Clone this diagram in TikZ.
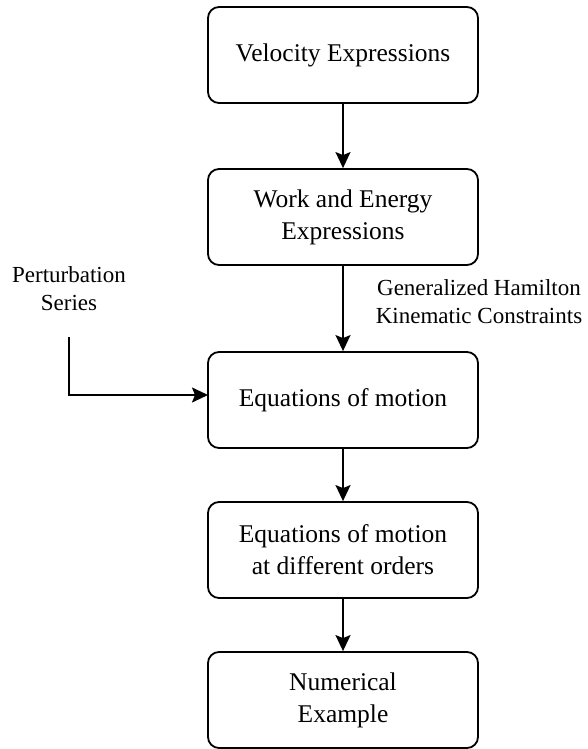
\documentclass[tikz,border=0pt]{standalone}
\usepackage{fontspec}
\setmainfont{Liberation Serif}
\usetikzlibrary{arrows.meta}
\begin{document}
\begin{tikzpicture}[x=1pt,y=-1pt,
  box/.style={draw,line width=1.8pt,rounded corners=11pt,minimum width=270pt,minimum height=96pt,inner sep=0pt,align=center,font=\fontsize{25.5}{32}\selectfont},
  lbl/.style={align=center,inner sep=0pt,font=\fontsize{23}{28}\selectfont},
  conn/.style={line width=1.8pt,-{Stealth[length=16pt,width=15pt,inset=3pt]}}]
\useasboundingbox (0,0) rectangle (587,749);
\node[box] (b1) at (343,55) {Velocity Expressions};
\node[box] (b2) at (343,217) {Work and Energy\\Expressions};
\node[box] (b3) at (343,400) {Equations of motion};
\node[box] (b4) at (343,550) {Equations of motion\\at different orders};
\node[box] (b5) at (343,700) {Numerical\\Example};
\node[lbl] (gh) at (479,302) {Generalized Hamilton\\Kinematic Constraints};
\node[lbl] (ps) at (69,289) {Perturbation\\Series};
\coordinate (pstart) at (69,337);
\coordinate (pend) at (208,395);
\draw[conn] (b1) -- (b2);
\draw[conn] (b2) -- (b3);
\draw[conn] (b3) -- (b4);
\draw[conn] (b4) -- (b5);
\draw[conn] (pstart) |- (pend);
\end{tikzpicture}
\end{document}
